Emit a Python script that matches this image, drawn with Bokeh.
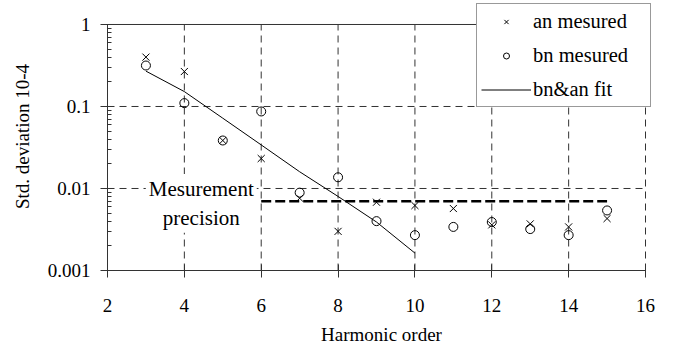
from bokeh.plotting import figure
from bokeh.models import (Range1d, FixedTicker, Span, Label, Legend, LegendItem,
                          LogTicker)
from bokeh.embed import file_html
from bokeh.resources import INLINE

# ---- data ----
harmonic = [3, 4, 5, 6, 7, 8, 9, 10, 11, 12, 13, 14, 15]
an_measured = [0.40, 0.267, 0.0385, 0.0232, 0.0076, 0.0030, 0.0068, 0.0062,
               0.0057, 0.0036, 0.0037, 0.0034, 0.0043]
bn_measured = [0.316, 0.110, 0.0385, 0.087, 0.0089, 0.0137, 0.0040, 0.0027,
               0.0034, 0.0039, 0.0032, 0.0027, 0.0054]
fit_x = [3, 4, 5, 6, 7, 8, 9, 10]
fit_y = [0.27, 0.152, 0.072, 0.034, 0.016, 0.0080, 0.0039, 0.00163]
precision_x = [6, 15]
precision_y = [0.007, 0.007]
x_ticks = [2, 4, 6, 8, 10, 12, 14, 16]
y_ticks = [0.001, 0.01, 0.1, 1]
y_tick_labels = {0.001: "0.001", 0.01: "0.01", 0.1: "0.1", 1: "1"}
x_min, x_max = 2, 16
y_min, y_max = 0.001, 1

FONT = "Liberation Serif"
FS = "19px"
GRID = dict(line_color="#333333", line_dash="7 5", line_width=1, level="underlay")

p = figure(width=683, height=347, output_backend="svg", toolbar_location=None,
           y_axis_type="log", x_range=Range1d(2, 16.26), y_range=Range1d(0.001, 1.854),
           min_border_left=107, min_border_right=28, min_border_top=2,
           min_border_bottom=77)
p.outline_line_color = None
p.background_fill_color = "white"

# axes
p.xaxis.ticker = FixedTicker(ticks=x_ticks)
p.yaxis.ticker = LogTicker(num_minor_ticks=10)
p.yaxis.major_label_overrides = y_tick_labels
p.xaxis.bounds = (x_min, x_max)
p.yaxis.bounds = (y_min, y_max)
for ax in (p.xaxis[0], p.yaxis[0]):
    ax.axis_line_color = "#333333"
    ax.major_tick_line_color = "#333333"
    ax.minor_tick_line_color = "#333333"
    ax.major_label_text_font = FONT
    ax.major_label_text_font_size = FS
    ax.major_label_text_color = "black"
    ax.axis_label_text_font = FONT
    ax.axis_label_text_font_size = FS
    ax.axis_label_text_font_style = "normal"
    ax.axis_label_text_color = "black"
    ax.major_tick_in = 6
    ax.major_tick_out = 7
p.xaxis.minor_tick_line_color = None
p.yaxis.minor_tick_in = 4
p.yaxis.minor_tick_out = 0
p.xaxis.major_label_standoff = 21
p.yaxis.major_label_standoff = 10
p.xaxis.axis_label = "Harmonic order"
p.yaxis.axis_label = "Std. deviation 10-4"
p.xaxis.axis_label_standoff = 9
p.yaxis.axis_label_standoff = 12

# grid lines as segments limited to the value range
p.xgrid.visible = False
p.ygrid.visible = False
gx = x_ticks[1:]
p.segment(x0=gx, y0=[y_min] * len(gx), x1=gx, y1=[y_max] * len(gx), **GRID)
gy = y_ticks[1:-1]
p.segment(x0=[x_min] * len(gy), y0=gy, x1=[x_max] * len(gy), y1=gy, **GRID)

# top frame line
p.segment(x0=[x_min], y0=[y_max], x1=[x_max], y1=[y_max], line_color="#333333",
          line_width=1)

# data
r_an = p.scatter(harmonic, an_measured, marker="x", size=10, line_color="black",
                 line_width=1)
r_bn = p.scatter(harmonic, bn_measured, marker="circle", size=9, fill_color=None,
                 line_color="black", line_width=1)
r_fit = p.line(fit_x, fit_y, line_color="black", line_width=1)
p.line(precision_x, precision_y, line_color="black", line_width=2.5,
       line_dash="10 4")

lab = Label(x=4.44, y=0.0066, text="Mesurement\nprecision", text_font=FONT,
            text_font_size="21px", text_color="black", text_align="center",
            text_baseline="middle", text_line_height=1.2,
            background_fill_color="white", padding=3)
p.add_layout(lab)

legend = Legend(items=[LegendItem(label="an mesured", renderers=[r_an]),
                       LegendItem(label="bn mesured", renderers=[r_bn]),
                       LegendItem(label="bn&an fit", renderers=[r_fit])],
                location=(369, 163), padding=4, spacing=8, margin=0,
                glyph_width=50, glyph_height=15, label_standoff=2,
                label_width=113, label_height=26,
                label_text_font=FONT, label_text_font_size="20.5px",
                label_text_color="black",
                border_line_color="#333333", border_line_width=1,
                background_fill_color="white", background_fill_alpha=1)
p.add_layout(legend, "center")

open("out.html", "w").write(file_html(p, INLINE))
